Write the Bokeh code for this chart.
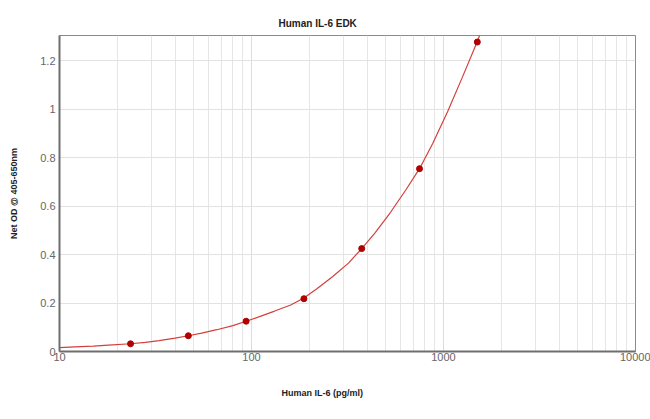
from bokeh.plotting import figure
from bokeh.models import FixedTicker, Range1d, Title
from bokeh.embed import file_html
from bokeh.resources import INLINE

# standards (pg/ml) and measured net OD
conc = [23.44, 46.88, 93.75, 187.5, 375, 750, 1500]
od = [0.032, 0.065, 0.125, 0.218, 0.425, 0.755, 1.278]

# fitted curve
curve_x = [10, 12, 15, 18, 23.44, 28, 33, 40, 46.88, 55, 66, 80, 93.75, 110, 132, 160,
           187.5, 220, 265, 320, 375, 440, 530, 640, 750, 880, 1050, 1250, 1500, 1600]
curve_y = [0.016, 0.019, 0.022, 0.026, 0.032, 0.038, 0.045, 0.055, 0.065, 0.076, 0.090,
           0.107, 0.125, 0.144, 0.167, 0.192, 0.221, 0.26, 0.31, 0.365, 0.425, 0.49,
           0.575, 0.67, 0.755, 0.86, 0.99, 1.13, 1.28, 1.34]

x_ticks = [10, 100, 1000, 10000]
x_tick_labels = ["10", "100", "1000", "10000"]
y_ticks = [0, 0.2, 0.4, 0.6, 0.8, 1.0, 1.2]
y_tick_labels = ["0", "0.2", "0.4", "0.6", "0.8", "1", "1.2"]

title_text = "Human IL-6 EDK"
x_label = "Human IL-6 (pg/ml)"
y_label = "Net OD @ 405-650nm"

W, H = 650, 419
p = figure(width=W, height=H, x_axis_type="log", output_backend="svg",
           toolbar_location=None,
           x_range=Range1d(10, 10000), y_range=Range1d(0, 1.305),
           min_border_left=59, min_border_right=15, min_border_top=35, min_border_bottom=68)
p.background_fill_color = "white"
p.border_fill_color = "white"
p.outline_line_color = "#8a8a8a"
p.outline_line_width = 1

minor = []
for d in [10, 100, 1000]:
    minor += [d * k for k in range(2, 10)]
p.xaxis.ticker = FixedTicker(ticks=x_ticks, minor_ticks=minor)
p.xaxis.major_label_overrides = {t: l for t, l in zip(x_ticks, x_tick_labels)}
p.yaxis.ticker = FixedTicker(ticks=y_ticks)
p.yaxis.major_label_overrides = {t: l for t, l in zip(y_ticks, y_tick_labels)}

for ax in (p.xaxis, p.yaxis):
    ax.axis_line_color = "#6e6e6e"
    ax.axis_line_width = 2
    ax.major_tick_line_color = None
    ax.minor_tick_line_color = None
    ax.major_tick_out = 0
    ax.minor_tick_out = 0
    ax.major_label_text_color = "#666666"
    ax.major_label_text_font = "Liberation Sans"
    ax.major_label_text_font_size = "11px"
p.xaxis.major_label_standoff = 1
p.yaxis.major_label_standoff = 4

p.yaxis.axis_label = y_label
p.yaxis.axis_label_standoff = 18
p.yaxis.axis_label_text_font = "Liberation Sans"
p.yaxis.axis_label_text_font_style = "bold"
p.yaxis.axis_label_text_font_size = "9px"
p.yaxis.axis_label_text_color = "#222222"

p.xgrid.grid_line_color = "#dcdcdc"
p.xgrid.minor_grid_line_color = "#e6e6e6"
p.ygrid.grid_line_color = "#e2e2e2"

p.line(curve_x, curve_y, line_color="#d2403c", line_width=1.2)
p.scatter(conc, od, size=6, fill_color="#b00000", line_color="#b00000")

p.title = Title(text=title_text, align="left", offset=219, standoff=10,
                vertical_align="top",
                text_font="Liberation Sans", text_font_style="bold",
                text_font_size="10px", text_color="#222222")
p.add_layout(Title(text=x_label, align="left", offset=222, standoff=44,
                   vertical_align="bottom",
                   text_font="Liberation Sans", text_font_style="bold",
                   text_font_size="9px", text_color="#222222"), "below")

open("out.html", "w").write(file_html(p, INLINE))
